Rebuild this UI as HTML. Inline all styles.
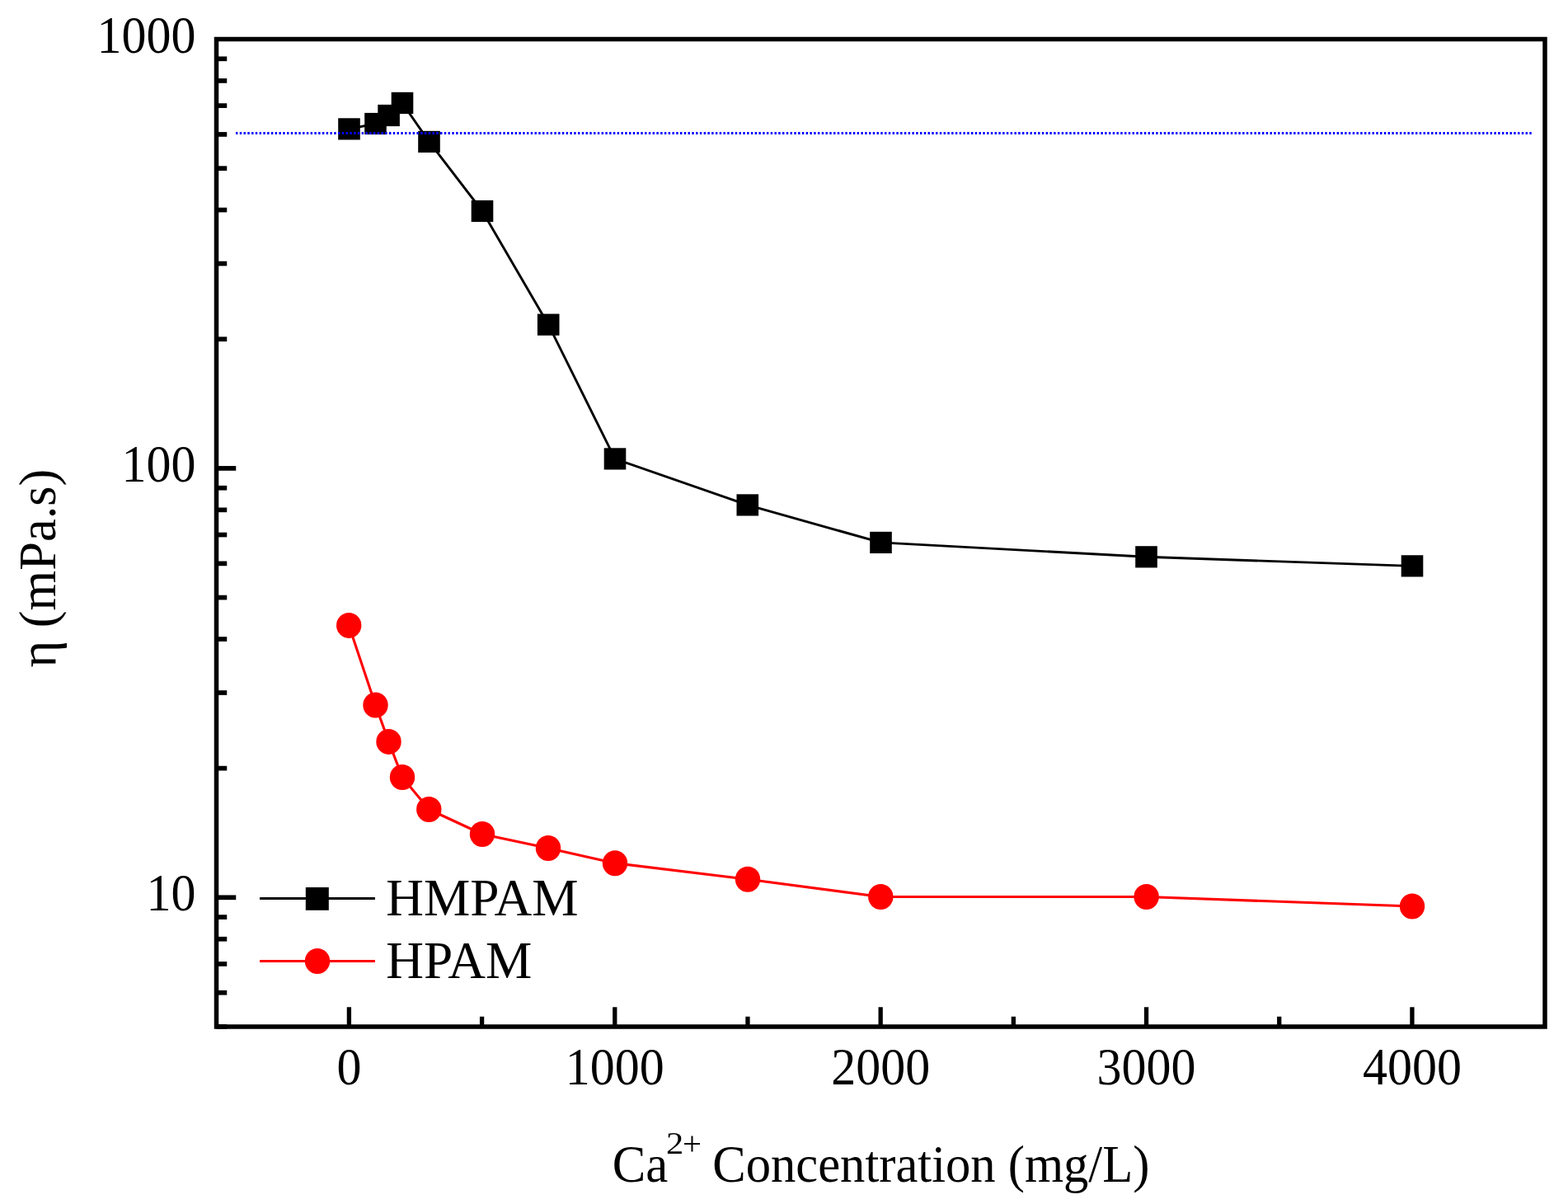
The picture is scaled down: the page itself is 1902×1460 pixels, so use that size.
<!DOCTYPE html><html><head><meta charset="utf-8"><style>html,body{margin:0;padding:0;background:#fff;}svg{display:block;}text{font-family:"Liberation Serif","Times New Roman",serif;fill:#000;}</style></head><body>
<svg width="1902" height="1460" viewBox="0 0 1902 1460">
<rect width="1902" height="1460" fill="#fff"/>
<polyline fill="none" stroke="#000" stroke-width="2.9" stroke-linejoin="round" points="423.5,156.4 455.5,150 471.6,140 488,124.9 520.5,171.9 585,256 665.2,393.7 746,556.4 906.8,612.4 1068.5,657.9 1390.5,675.3 1713,686.35"/>
<polyline fill="none" stroke="#f00" stroke-width="3.1" stroke-linejoin="round" points="423.2,758.4 455.5,855 471.5,899.4 488,942.5 520.3,981.5 585,1011.5 665,1028.5 746,1046.7 907,1066.3 1068.3,1087.5 1390.6,1087.5 1713,1099"/>
<rect x="410.20" y="143.30" width="26.6" height="26.2" fill="#000"/>
<rect x="442.20" y="136.90" width="26.6" height="26.2" fill="#000"/>
<rect x="458.30" y="126.90" width="26.6" height="26.2" fill="#000"/>
<rect x="474.70" y="111.80" width="26.6" height="26.2" fill="#000"/>
<rect x="507.20" y="158.80" width="26.6" height="26.2" fill="#000"/>
<rect x="571.70" y="242.90" width="26.6" height="26.2" fill="#000"/>
<rect x="651.90" y="380.60" width="26.6" height="26.2" fill="#000"/>
<rect x="732.70" y="543.30" width="26.6" height="26.2" fill="#000"/>
<rect x="893.50" y="599.30" width="26.6" height="26.2" fill="#000"/>
<rect x="1055.20" y="644.80" width="26.6" height="26.2" fill="#000"/>
<rect x="1377.20" y="662.20" width="26.6" height="26.2" fill="#000"/>
<rect x="1699.70" y="673.25" width="26.6" height="26.2" fill="#000"/>
<ellipse cx="423.2" cy="758.4" rx="15.2" ry="15.5" fill="#f00"/>
<ellipse cx="455.5" cy="855" rx="15.2" ry="15.5" fill="#f00"/>
<ellipse cx="471.5" cy="899.4" rx="15.2" ry="15.5" fill="#f00"/>
<ellipse cx="488" cy="942.5" rx="15.2" ry="15.5" fill="#f00"/>
<ellipse cx="520.3" cy="981.5" rx="15.2" ry="15.5" fill="#f00"/>
<ellipse cx="585" cy="1011.5" rx="15.2" ry="15.5" fill="#f00"/>
<ellipse cx="665" cy="1028.5" rx="15.2" ry="15.5" fill="#f00"/>
<ellipse cx="746" cy="1046.7" rx="15.2" ry="15.5" fill="#f00"/>
<ellipse cx="907" cy="1066.3" rx="15.2" ry="15.5" fill="#f00"/>
<ellipse cx="1068.3" cy="1087.5" rx="15.2" ry="15.5" fill="#f00"/>
<ellipse cx="1390.6" cy="1087.5" rx="15.2" ry="15.5" fill="#f00"/>
<ellipse cx="1713" cy="1099" rx="15.2" ry="15.5" fill="#f00"/>
<line x1="286" y1="161.5" x2="1859" y2="161.5" stroke="#0000ff" stroke-width="3" stroke-dasharray="2.4 2.37"/>
<rect x="262.5" y="47.5" width="1611.5" height="1197.5" fill="none" stroke="#000" stroke-width="5.5"/>
<line x1="262.5" y1="1244.96" x2="275.25" y2="1244.96" stroke="#000" stroke-width="5.7"/>
<line x1="262.5" y1="1203.75" x2="275.25" y2="1203.75" stroke="#000" stroke-width="5.7"/>
<line x1="262.5" y1="1168.91" x2="275.25" y2="1168.91" stroke="#000" stroke-width="5.7"/>
<line x1="262.5" y1="1138.73" x2="275.25" y2="1138.73" stroke="#000" stroke-width="5.7"/>
<line x1="262.5" y1="1112.11" x2="275.25" y2="1112.11" stroke="#000" stroke-width="5.7"/>
<line x1="262.5" y1="1088.30" x2="286.25" y2="1088.30" stroke="#000" stroke-width="5.7"/>
<line x1="262.5" y1="931.64" x2="275.25" y2="931.64" stroke="#000" stroke-width="5.7"/>
<line x1="262.5" y1="840.01" x2="275.25" y2="840.01" stroke="#000" stroke-width="5.7"/>
<line x1="262.5" y1="774.99" x2="275.25" y2="774.99" stroke="#000" stroke-width="5.7"/>
<line x1="262.5" y1="724.56" x2="275.25" y2="724.56" stroke="#000" stroke-width="5.7"/>
<line x1="262.5" y1="683.35" x2="275.25" y2="683.35" stroke="#000" stroke-width="5.7"/>
<line x1="262.5" y1="648.51" x2="275.25" y2="648.51" stroke="#000" stroke-width="5.7"/>
<line x1="262.5" y1="618.33" x2="275.25" y2="618.33" stroke="#000" stroke-width="5.7"/>
<line x1="262.5" y1="591.71" x2="275.25" y2="591.71" stroke="#000" stroke-width="5.7"/>
<line x1="262.5" y1="567.90" x2="286.25" y2="567.90" stroke="#000" stroke-width="5.7"/>
<line x1="262.5" y1="411.24" x2="275.25" y2="411.24" stroke="#000" stroke-width="5.7"/>
<line x1="262.5" y1="319.61" x2="275.25" y2="319.61" stroke="#000" stroke-width="5.7"/>
<line x1="262.5" y1="254.59" x2="275.25" y2="254.59" stroke="#000" stroke-width="5.7"/>
<line x1="262.5" y1="204.16" x2="275.25" y2="204.16" stroke="#000" stroke-width="5.7"/>
<line x1="262.5" y1="162.95" x2="275.25" y2="162.95" stroke="#000" stroke-width="5.7"/>
<line x1="262.5" y1="128.11" x2="275.25" y2="128.11" stroke="#000" stroke-width="5.7"/>
<line x1="262.5" y1="97.93" x2="275.25" y2="97.93" stroke="#000" stroke-width="5.7"/>
<line x1="262.5" y1="71.31" x2="275.25" y2="71.31" stroke="#000" stroke-width="5.7"/>
<line x1="423.40" y1="1245.0" x2="423.40" y2="1221.25" stroke="#000" stroke-width="5.3"/>
<line x1="584.59" y1="1245.0" x2="584.59" y2="1232.75" stroke="#000" stroke-width="5.3"/>
<line x1="745.78" y1="1245.0" x2="745.78" y2="1221.25" stroke="#000" stroke-width="5.3"/>
<line x1="906.97" y1="1245.0" x2="906.97" y2="1232.75" stroke="#000" stroke-width="5.3"/>
<line x1="1068.16" y1="1245.0" x2="1068.16" y2="1221.25" stroke="#000" stroke-width="5.3"/>
<line x1="1229.35" y1="1245.0" x2="1229.35" y2="1232.75" stroke="#000" stroke-width="5.3"/>
<line x1="1390.54" y1="1245.0" x2="1390.54" y2="1221.25" stroke="#000" stroke-width="5.3"/>
<line x1="1551.73" y1="1245.0" x2="1551.73" y2="1232.75" stroke="#000" stroke-width="5.3"/>
<line x1="1712.92" y1="1245.0" x2="1712.92" y2="1221.25" stroke="#000" stroke-width="5.3"/>
<text transform="translate(237.5,63.80) scale(1,1.045)" font-size="60" text-anchor="end">1000</text>
<text transform="translate(237.5,584.00) scale(1,1.045)" font-size="60" text-anchor="end">100</text>
<text transform="translate(237.5,1103.60) scale(1,1.045)" font-size="60" text-anchor="end">10</text>
<text transform="translate(423.40,1314.8) scale(1,1.045)" font-size="60" text-anchor="middle">0</text>
<text transform="translate(745.78,1314.8) scale(1,1.045)" font-size="60" text-anchor="middle">1000</text>
<text transform="translate(1068.16,1314.8) scale(1,1.045)" font-size="60" text-anchor="middle">2000</text>
<text transform="translate(1390.54,1314.8) scale(1,1.045)" font-size="60" text-anchor="middle">3000</text>
<text transform="translate(1712.92,1314.8) scale(1,1.045)" font-size="60" text-anchor="middle">4000</text>
<text transform="translate(742.7,1433.3) scale(1,1.046)" font-size="60.8">Ca</text>
<text transform="translate(808.04,1398.9) scale(1,0.8939)" font-size="42.4">2</text>
<text transform="translate(827.97,1399.9)" font-size="40.7">+</text>
<text transform="translate(864.32,1433.3) scale(1,1.046)" font-size="60.6">Concentration (mg/L)</text>
<text transform="translate(67.4,809.6) rotate(-90)" font-size="62.5">η (mPa.s)</text>
<line x1="315" y1="1089.5" x2="455" y2="1089.5" stroke="#000" stroke-width="3.1"/>
<rect x="370.8" y="1076" width="28" height="27.8" fill="#000"/>
<line x1="315" y1="1165.5" x2="455" y2="1165.5" stroke="#f00" stroke-width="3"/>
<ellipse cx="385" cy="1165.5" rx="15.2" ry="15.6" fill="#f00"/>
<text x="468.18" y="1110" font-size="63.3">HMPAM</text>
<text x="468.18" y="1185.7" font-size="63.3">HPAM</text>
</svg></body></html>
